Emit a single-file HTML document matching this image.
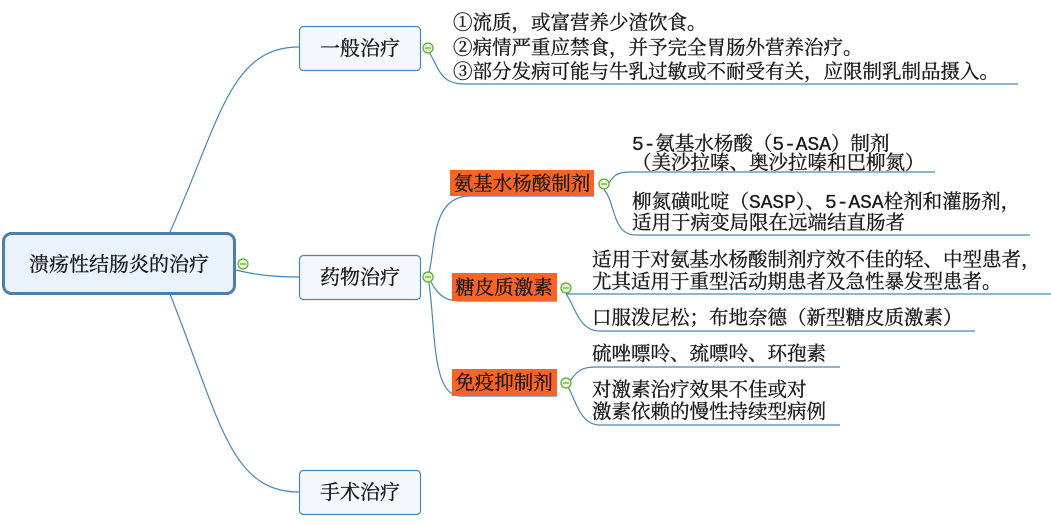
<!DOCTYPE html>
<html><head><meta charset="utf-8"><style>
html,body{margin:0;padding:0;background:#fff;width:1051px;height:525px;overflow:hidden}
svg text{font-family:"Liberation Mono","Noto Serif CJK SC","Noto Sans CJK SC",serif;fill:#1a1a1a;stroke:#1a1a1a;stroke-width:0.35}
</style></head><body>
<svg width="1051" height="525" viewBox="0 0 1051 525" xmlns="http://www.w3.org/2000/svg">
<g fill="none" stroke="#4a86b8" stroke-width="1.2">
<path d="M170 232 C220 120 230 47 299 47"/>
<path d="M236 270 C260 276 280 277 299 277"/>
<path d="M170 294 C220 420 230 492 299 492"/>
<path d="M428 50 C440 70 440 84 465 84 L1018 84"/>
<path d="M428 277 C436 250 430 196 470 196 L594 196"/>
<path d="M428 277 C436 290 440 301 460 301 L557 301"/>
<path d="M428 277 C436 320 430 396 460 396 L557 396"/>
<path d="M604 190 C612 180 612 172 630 172 L935 172"/>
<path d="M604 190 C615 200 612 235 635 235 L1030 235"/>
<path d="M566 294 C575 294 575 294 595 294 L1051 294"/>
<path d="M566 294 C575 305 578 331 600 331 L975 331"/>
<path d="M566 384 C575 378 575 367 595 367 L840 367"/>
<path d="M566 384 C575 395 578 425 600 425 L840 425"/>
</g>
<rect x="3.5" y="233.5" width="231" height="60" rx="8" fill="#eaf2fb" stroke="#4a7fae" stroke-width="3"/>
<text x="119" y="271" font-size="20" text-anchor="middle">溃疡性结肠炎的治疗</text>
<g fill="#f4f8fc" stroke="#4a86b8" stroke-width="1.2">
<rect x="299.5" y="26.5" width="121" height="44" rx="4"/>
<rect x="299.5" y="255.5" width="121" height="44" rx="4"/>
<rect x="299.5" y="470.5" width="121" height="44" rx="4"/>
</g>
<text x="360" y="55" font-size="20" text-anchor="middle">一般治疗</text>
<text x="360" y="284" font-size="20" text-anchor="middle">药物治疗</text>
<text x="360" y="499" font-size="20" text-anchor="middle">手术治疗</text>
<g fill="#f86427">
<rect x="450" y="170" width="144" height="26"/>
<rect x="452" y="273" width="105" height="28"/>
<rect x="452" y="369" width="105" height="27"/>
</g>
<text x="522" y="190" font-size="19.5" text-anchor="middle">氨基水杨酸制剂</text>
<text x="504" y="294" font-size="19.5" text-anchor="middle">糖皮质激素</text>
<text x="504" y="389" font-size="19.5" text-anchor="middle">免疫抑制剂</text>
<g fill="#e8f6d8" stroke="#5aaa2a" stroke-width="1.2">
<circle cx="243" cy="264" r="5"/><circle cx="428" cy="48" r="5"/><circle cx="428" cy="277" r="5"/>
<circle cx="604" cy="184" r="5"/><circle cx="566" cy="288" r="5"/><circle cx="566" cy="383" r="5"/>
</g>
<g stroke="#5aaa2a" stroke-width="1.2">
<line x1="240" y1="264" x2="246" y2="264"/><line x1="425" y1="48" x2="431" y2="48"/><line x1="425" y1="277" x2="431" y2="277"/>
<line x1="601" y1="184" x2="607" y2="184"/><line x1="563" y1="288" x2="569" y2="288"/><line x1="563" y1="383" x2="569" y2="383"/>
</g>
<g font-size="19.5">
<text x="453" y="29">①流质，或富营养少渣饮食。</text>
<text x="453" y="54">②病情严重应禁食，并予完全胃肠外营养治疗。</text>
<text x="453" y="78">③部分发病可能与牛乳过敏或不耐受有关，应限制乳制品摄入。</text>
<text x="632" y="150">5-氨基水杨酸（5-ASA）制剂</text>
<text x="632" y="169">（美沙拉嗪、奥沙拉嗪和巴柳氮）</text>
<text x="632" y="208">柳氮磺吡啶（SASP）、5-ASA栓剂和灌肠剂，</text>
<text x="632" y="229">适用于病变局限在远端结直肠者</text>
<text x="592" y="266">适用于对氨基水杨酸制剂疗效不佳的轻、中型患者，</text>
<text x="592" y="288">尤其适用于重型活动期患者及急性暴发型患者。</text>
<text x="592" y="324">口服泼尼松；布地奈德（新型糖皮质激素）</text>
<text x="592" y="360">硫唑嘌呤、巯嘌呤、环孢素</text>
<text x="592" y="396">对激素治疗效果不佳或对</text>
<text x="592" y="418">激素依赖的慢性持续型病例</text>
</g>
</svg>
</body></html>
